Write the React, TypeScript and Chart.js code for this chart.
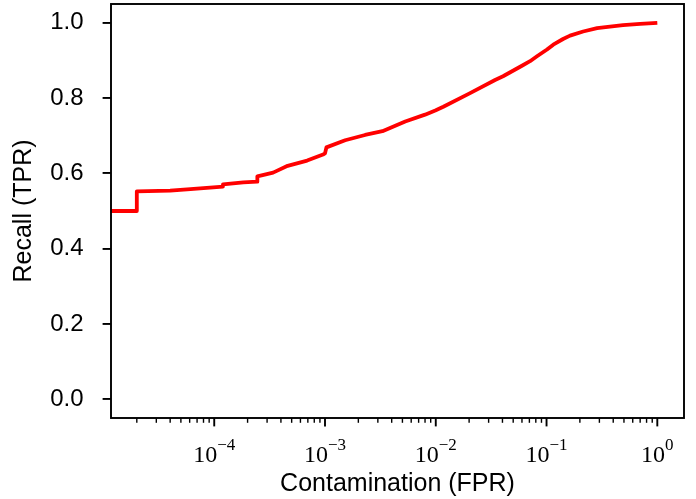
import React, { useEffect, useRef } from 'react';
import { Chart, registerables } from 'chart.js';

Chart.register(...registerables);

// ROC-like curve: contamination (FPR) vs recall (TPR)
const fprValues = [
  1e-6, 2.0e-5, 2.0e-5, 4.0e-5, 6.1e-5, 1.2e-4, 1.2e-4, 1.83e-4, 2.45e-4, 2.45e-4,
  3.4e-4, 4.6e-4, 6.9e-4, 9.6e-4, 1.0e-3, 1.03e-3, 1.52e-3, 2.3e-3, 3.3e-3, 5.3e-3,
  8.0e-3, 9.9e-3, 1.17e-2, 2.0e-2, 3.43e-2, 4.05e-2, 6.0e-2, 7.1e-2, 8.2e-2, 0.101,
  0.115, 0.141, 0.163, 0.214, 0.286, 0.374, 0.49, 0.7, 1.0,
];
const tprValues = [
  0.5, 0.5, 0.552, 0.554, 0.558, 0.565, 0.571, 0.576, 0.578, 0.592,
  0.602, 0.62, 0.634, 0.65, 0.653, 0.669, 0.688, 0.702, 0.712, 0.738,
  0.756, 0.767, 0.777, 0.812, 0.848, 0.858, 0.886, 0.898, 0.911, 0.929,
  0.942, 0.957, 0.966, 0.977, 0.986, 0.99, 0.994, 0.997, 1.0,
];
const yTickValues = [0, 0.2, 0.4, 0.6, 0.8, 1.0];
const xDecadeExponents = [-4, -3, -2, -1, 0];
const xMinMax = [Math.pow(10, -4.932), Math.pow(10, 0.241)];
const yMinMax = [-0.05, 1.05];
const xTitle = 'Contamination (FPR)';
const yTitle = 'Recall (TPR)';

const SANS = '"Liberation Sans", Arial, Helvetica, sans-serif';
const SERIF = '"Liberation Serif", "Times New Roman", serif';

const framePlugin = {
  id: 'mplFrame',
  afterDraw(chart: any) {
    const { ctx, chartArea: a, scales } = chart;
    const xs = scales.x;
    ctx.save();
    ctx.strokeStyle = '#000';
    // x tick marks (major + minor)
    for (let k = -6; k <= 1; k++) {
      for (let m = 1; m <= 9; m++) {
        const v = m * Math.pow(10, k);
        if (v < xs.min || v > xs.max) continue;
        const px = xs.getPixelForValue(v);
        const major = m === 1;
        ctx.lineWidth = major ? 1.9 : 1.4;
        ctx.beginPath();
        ctx.moveTo(px, a.bottom);
        ctx.lineTo(px, a.bottom + (major ? 8.4 : 4.8));
        ctx.stroke();
      }
    }
    // x tick labels as 10^k
    ctx.fillStyle = '#000';
    ctx.textBaseline = 'alphabetic';
    ctx.textAlign = 'left';
    for (const k of xDecadeExponents) {
      const px = xs.getPixelForValue(Math.pow(10, k));
      const base = '10';
      const sup = k < 0 ? '\u2212' + Math.abs(k) : String(k);
      ctx.font = '24px ' + SERIF;
      const w1 = ctx.measureText(base).width;
      ctx.font = '17px ' + SERIF;
      const w2 = ctx.measureText(sup).width;
      const x0 = px - (w1 + w2) / 2;
      ctx.font = '24px ' + SERIF;
      ctx.fillText(base, x0, a.bottom + 44);
      ctx.font = '17px ' + SERIF;
      ctx.fillText(sup, x0 + w1, a.bottom + 32);
    }
    // frame
    ctx.lineWidth = 1.9;
    ctx.strokeRect(a.left, a.top, a.right - a.left, a.bottom - a.top);
    ctx.restore();
  },
};

function noPad(s: any) {
  s.paddingTop = 0;
  s.paddingBottom = 0;
  s.paddingLeft = 0;
  s.paddingRight = 0;
}

export default function App() {
  const ref = useRef<HTMLCanvasElement>(null);
  useEffect(() => {
    if (!ref.current) return;
    const points = fprValues.map((x, i) => ({ x, y: tprValues[i] }));
    const chart = new Chart(ref.current, {
      type: 'line',
      data: {
        datasets: [
          {
            data: points,
            borderColor: '#ff0000',
            borderWidth: 3.8,
            pointRadius: 0,
            fill: false,
            tension: 0,
            borderJoinStyle: 'round',
            borderCapStyle: 'butt',
          },
        ],
      },
      options: {
        animation: false,
        responsive: false,
        devicePixelRatio: 1,
        layout: { padding: { top: 4, right: 12, left: 0, bottom: 0 } },
        plugins: { legend: { display: false }, tooltip: { enabled: false } },
        scales: {
          x: {
            type: 'logarithmic',
            min: xMinMax[0],
            max: xMinMax[1],
            grid: { display: false },
            border: { display: false },
            ticks: { display: false },
            title: {
              display: true,
              text: xTitle,
              color: '#000',
              font: { family: SANS, size: 25 },
              padding: { top: 0, bottom: 0 },
            },
            afterFit: (s: any) => {
              noPad(s);
              s.height = 81;
            },
          },
          y: {
            type: 'linear',
            min: yMinMax[0],
            max: yMinMax[1],
            afterBuildTicks: (s: any) => {
              s.ticks = yTickValues.map((v) => ({ value: v }));
            },
            grid: {
              display: true,
              drawOnChartArea: false,
              drawTicks: true,
              tickLength: 8.4,
              color: '#000',
              lineWidth: 1.9,
            },
            border: { display: false },
            ticks: {
              color: '#000',
              font: { family: SANS, size: 24 },
              padding: 19,
              callback: (v: any) => Number(v).toFixed(1),
            },
            title: {
              display: true,
              text: yTitle,
              color: '#000',
              font: { family: SANS, size: 25 },
              padding: { top: 9, bottom: 0 },
            },
            afterFit: (s: any) => {
              noPad(s);
              s.width = 111;
            },
          },
        },
      },
      plugins: [framePlugin],
    });
    return () => chart.destroy();
  }, []);
  return (
    <div style={{ position: 'absolute', left: 0, top: 0, width: 696, height: 499, background: '#fff' }}>
      <canvas ref={ref} width={696} height={499} style={{ display: 'block' }} />
    </div>
  );
}
